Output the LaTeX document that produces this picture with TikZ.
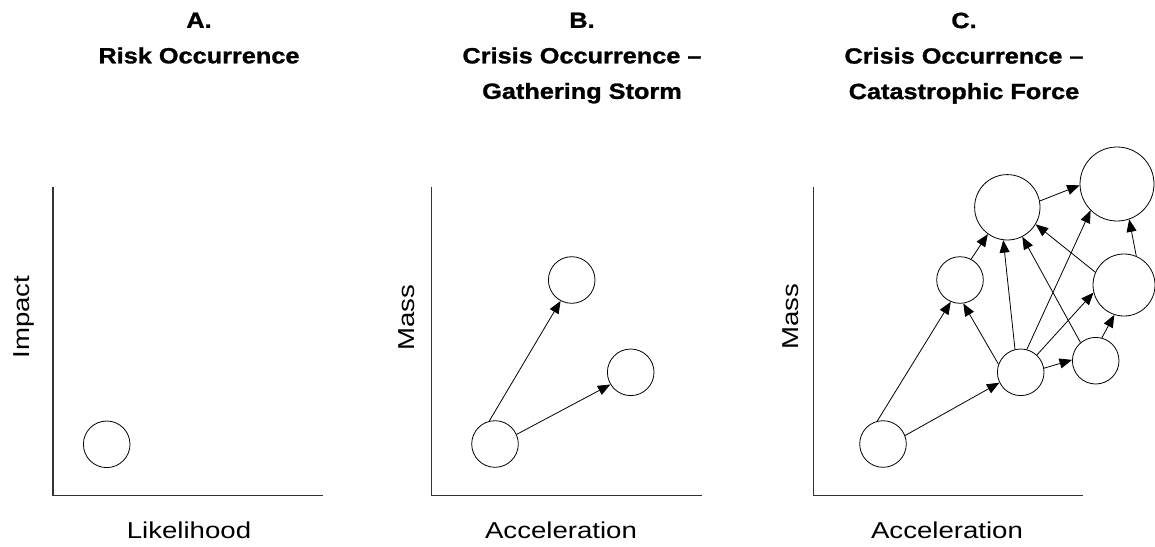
\documentclass[tikz,border=0pt]{standalone}
\usepackage{fontspec}
\setmainfont{Liberation Sans}[FakeStretch=1.2]
\newfontfamily\titlefont{Liberation Sans Bold}[FakeStretch=1.15,FakeBold=1.2]
\usetikzlibrary{arrows.meta}
\begin{document}
\begin{tikzpicture}[x=1pt,y=-1pt,
  axisline/.style={line width=1.3pt,draw=black!80},
  bubble/.style={circle,draw,line width=0.8pt,inner sep=0pt,minimum size=#1},
  bubble/.default=46.6pt,
  link/.style={line width=0.8pt,-{Triangle[length=12.5pt,width=10pt]}},
  ttl/.style={font=\titlefont\fontsize{22}{35.5}\selectfont,align=center,anchor=north,inner sep=0pt},
  lbl/.style={font=\fontsize{23}{26}\selectfont,anchor=base}
]
\useasboundingbox (0,0) rectangle (1155,546);

% titles
\node[ttl] (tA) at (199,12.5) {A.\\Risk Occurrence};
\node[ttl] (tB) at (582,12.5) {B.\\Crisis Occurrence –\\Gathering Storm};
\node[ttl] (tC) at (964,12.5) {C.\\Crisis Occurrence –\\Catastrophic Force};

% axes
\coordinate (aTop) at (53,187);
\coordinate (aO) at (53,495.7);
\coordinate (aR) at (323,495.7);
\draw[axisline] (aTop) -- (aO) -- (aR);
\coordinate (bTop) at (431.7,187);
\coordinate (bO) at (431.7,495.7);
\coordinate (bR) at (701.7,495.7);
\draw[axisline] (bTop) -- (bO) -- (bR);
\coordinate (cTop) at (813.3,187);
\coordinate (cO) at (813.3,495.7);
\coordinate (cR) at (1083,495.7);
\draw[axisline] (cTop) -- (cO) -- (cR);

% axis labels
\node[lbl] (xA) at (189,538) {Likelihood};
\node[lbl] (xB) at (561,538) {Acceleration};
\node[lbl] (xC) at (947,538) {Acceleration};
\node[lbl,rotate=90,anchor=center] (yA) at (24,317) {Impact};
\node[lbl,rotate=90,anchor=center] (yB) at (407,318) {Mass};
\node[lbl,rotate=90,anchor=center] (yC) at (791,317) {Mass};

% panel A
\node[bubble] (A1) at (106.7,444.3) {};

% panel B
\node[bubble] (B1) at (495,444) {};
\node[bubble] (B2) at (571.7,280) {};
\node[bubble] (B3) at (630.7,372.3) {};
\draw[link] (B1.104) -- (B2.242);
\draw[link] (B1.24) -- (B3.211);

% panel C
\node[bubble] (C1) at (883,444) {};
\node[bubble] (C2) at (1020.7,372.3) {};
\node[bubble] (C3) at (1095.7,360.7) {};
\node[bubble] (C4) at (960,280) {};
\node[bubble=65.4pt] (C5) at (1007.3,207.3) {};
\node[bubble=74pt] (C6) at (1117,184) {};
\node[bubble=62pt] (C7) at (1124,285) {};

\draw[link] (C1.104) -- (C4.247);
\draw[link] (C1.21) -- (C2.206);
\draw[link] (C2.160) -- (C4.278);
\draw[link] (C2.104) -- (C5.263);
\draw[link] (C2.75) -- (C6.225);
\draw[link] (C2.47) -- (C7.194);
\draw[link] (C2.10) -- (C3.178);
\draw[link] (C3.130) -- (C5.297);
\draw[link] (C3.75) -- (C7.252);
\draw[link] (C4.62) -- (C5.234);
\draw[link] (C5.11) -- (C6.182);
\draw[link] (C7.156) -- (C5.329);
\draw[link] (C7.67) -- (C6.289);
\end{tikzpicture}
\end{document}
